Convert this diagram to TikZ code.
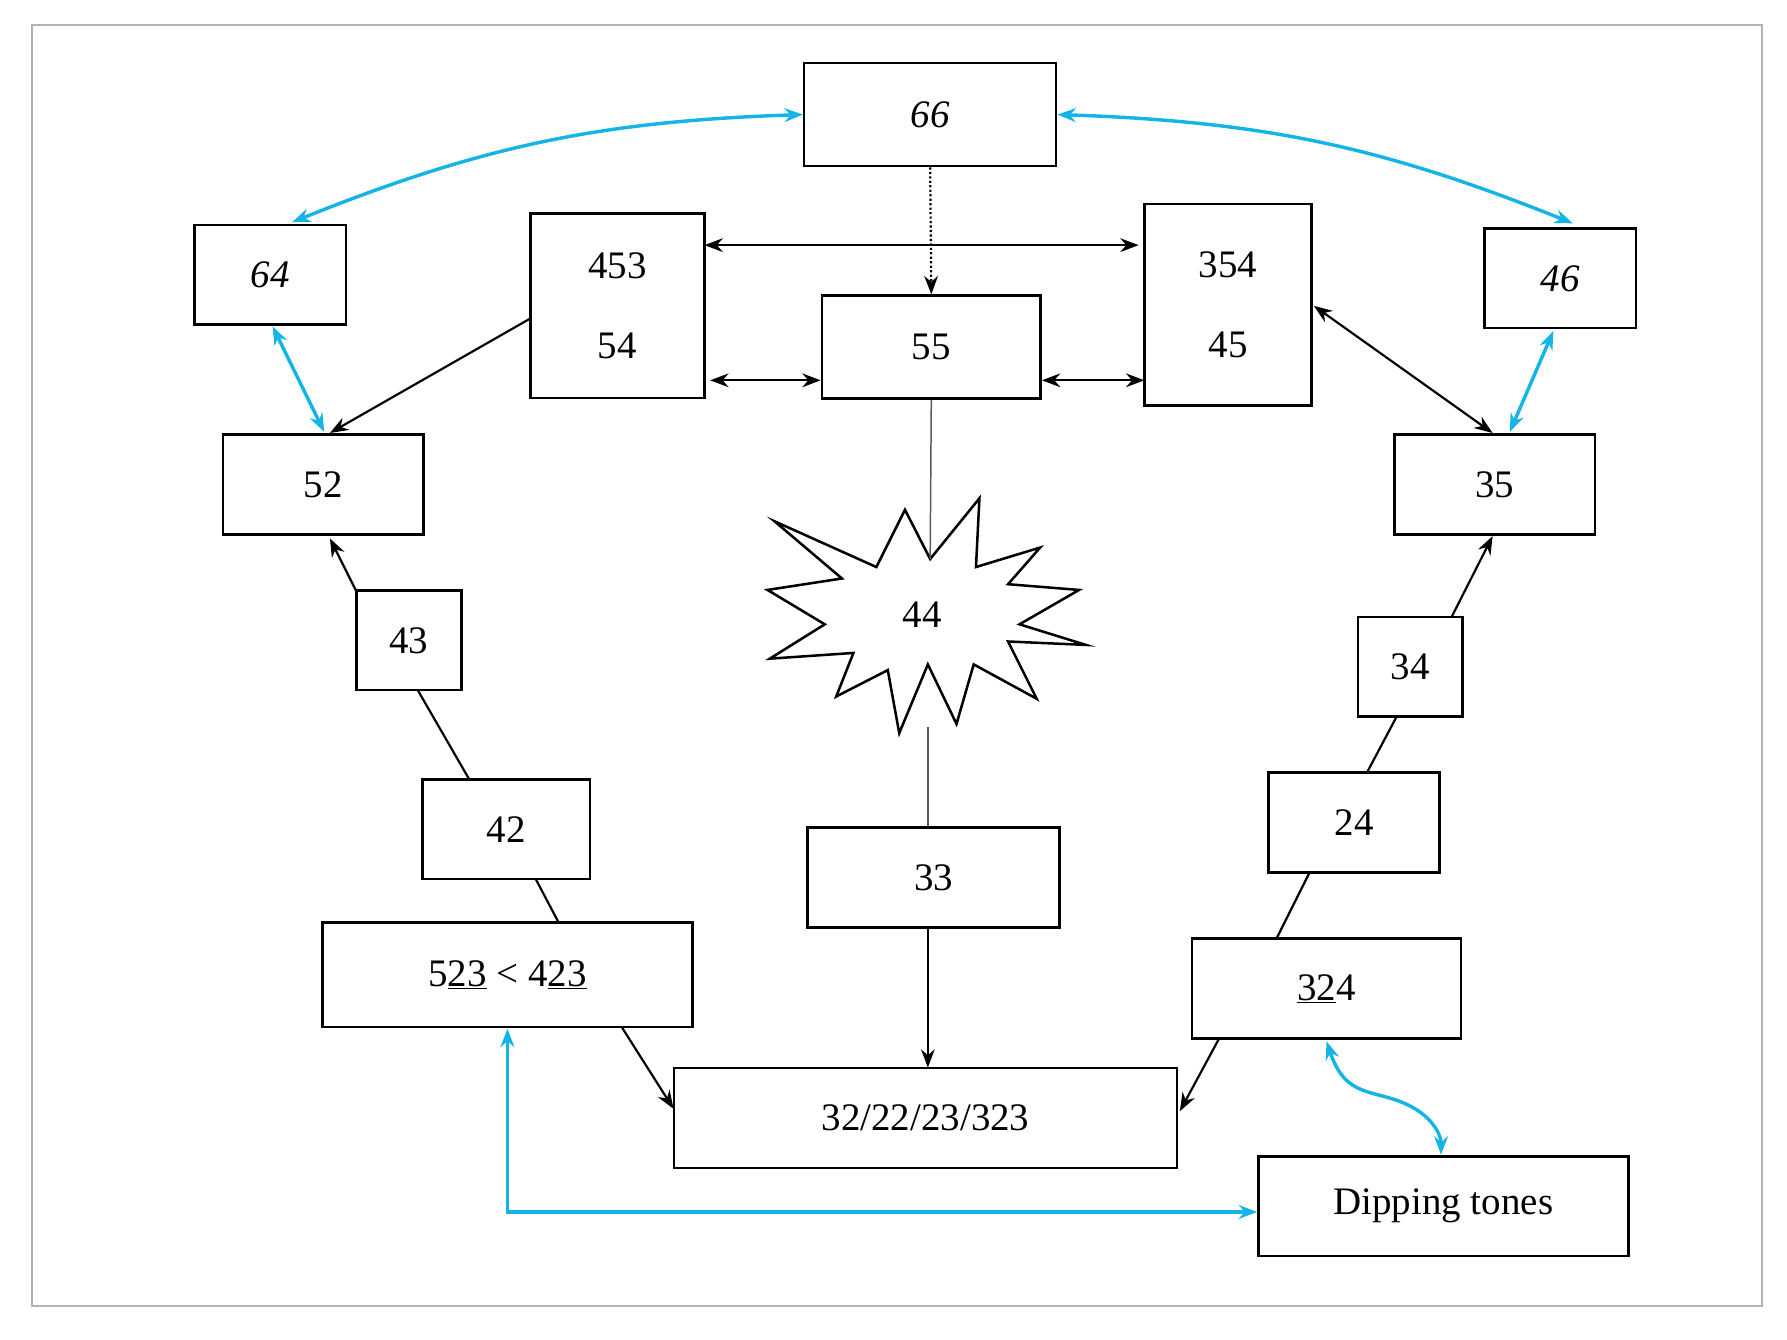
\documentclass[tikz,border=0pt]{standalone}
\usepackage{fontspec}
\setmainfont{Liberation Serif}
\usetikzlibrary{shapes.geometric,arrows.meta}
\definecolor{cy}{RGB}{20,180,230}
\begin{document}
\begin{tikzpicture}[x=1pt,y=-1pt,
 bx/.style={draw,line width=2.2pt,inner sep=0pt,font=\fontsize{34}{40}\selectfont},
 ar/.style={line width=1.9pt,-{Stealth[length=16pt,width=12pt]}},
 dar/.style={line width=1.9pt,{Stealth[length=16pt,width=12pt]}-{Stealth[length=16pt,width=12pt]}},
 bl/.style={cy,line width=3pt,{Stealth[length=16pt,width=12pt]}-{Stealth[length=16pt,width=12pt]}},
 ln/.style={line width=1.9pt}]
\useasboundingbox (0,0) rectangle (1560,1169);
\draw[gray!60,line width=2pt] (28,22) rectangle (1538,1140);
\node[bx,minimum width=220,minimum height=90,font=\itshape\fontsize{34}{40}\selectfont] (n66) at (812,100) {66};
\node[bx,minimum width=132,minimum height=87,font=\itshape\fontsize{34}{40}\selectfont] (n64) at (236,240) {64};
\node[bx,minimum width=132,minimum height=87,font=\itshape\fontsize{34}{40}\selectfont] (n46) at (1362,243) {46};
\node[bx,minimum width=152,minimum height=161,align=center] (n453) at (539,267) {453\\[30pt]54};
\node[bx,minimum width=146,minimum height=176,align=center] (n354) at (1072,266) {354\\[30pt]45};
\node[bx,minimum width=191,minimum height=90] (n55) at (813,303) {55};
\node[bx,minimum width=175,minimum height=87] (n52) at (282,423) {52};
\node[bx,minimum width=175,minimum height=87] (n35) at (1305,423) {35};
\node[bx,minimum width=92,minimum height=87] (n43) at (357,559) {43};
\node[bx,minimum width=91,minimum height=87] (n34) at (1231,582) {34};
\node[bx,minimum width=146,minimum height=87] (n42) at (442,724) {42};
\node[bx,minimum width=149,minimum height=87] (n24) at (1182,718) {24};
\node[bx,minimum width=220,minimum height=87] (n33) at (815,766) {33};
\node[bx,minimum width=323,minimum height=91] (n523) at (443,851) {5\underline{23} < 4\underline{23}};
\node[bx,minimum width=235,minimum height=87] (n324) at (1158,863) {\underline{32}4};
\node[bx,minimum width=439,minimum height=87] (n32) at (808,976) {32/22/23/323};
\node[bx,minimum width=323,minimum height=87] (ndip) at (1260,1053) {Dipping tones};
% star 44
\draw[line width=2.2pt,line join=miter,fill=white]
 (812,488) -- (855,435) -- (852,495) -- (908,478) -- (880,510) -- (942,515) -- (890,545)
 -- (948,563) -- (880,560) -- (905,610) -- (850,580) -- (835,632) -- (810,580)
 -- (785,640) -- (775,585) -- (730,608) -- (745,570) -- (672,575) -- (720,545)
 -- (670,515) -- (735,505) -- (676,455) -- (765,495) -- (790,445) -- cycle;
\node[font=\fontsize{34}{40}\selectfont] (n44) at (805,537) {44};
\coordinate (s44t) at (812,488);
\coordinate (s44b) at (810,635);
% blue
\draw[bl] (n66.west) to[bend right=10] (255,194);
\draw[bl] (n66.east) to[bend left=10] (1373,195);
\draw[bl] (238,285) -- (283,377);
\draw[bl] (1356,289) -- (1318,377);
\draw[bl] (443,898) -- (443,1058) -- (ndip.west|-0,1058);
\draw[bl] (1158,909) .. controls (1175,960) and (1200,950) .. (1230,965) .. controls (1250,975) and (1258,990) .. (1258,1008);
% black
\draw[ln,dotted,-{Stealth[length=16pt,width=12pt]}] (n66.south) -- (n55.north);
\draw[dar] (615,214) -- (994,214);
\draw[dar] (620,332) -- (n55.west|-0,332);
\draw[dar] (n55.east|-0,332) -- (999,332);
\draw[ar] (463,278) -- (288,378);
\draw[dar] (1147,267) -- (1303,378);
\draw[gray!70!black,line width=1.3pt] (n55.south) -- (s44t);
\draw[gray!70!black,line width=1.3pt] (s44b) -- (n33.north-|810,0);
\draw[line width=1.3pt,-{Stealth[length=16pt,width=12pt]}] (810,810) -- (810,932);
\draw[ar] (311,516) -- (288,470);
\draw[ln] (410,681) -- (365,603);
\draw[ln] (488,806) -- (468,768);
\draw[ar] (543,897) -- (588,968);
\draw[ar] (1064,907) -- (1030,970);
\draw[ln] (1114,820) -- (1143,762);
\draw[ln] (1193,675) -- (1219,626);
\draw[ar] (1267,539) -- (1303,468);
\end{tikzpicture}
\end{document}
